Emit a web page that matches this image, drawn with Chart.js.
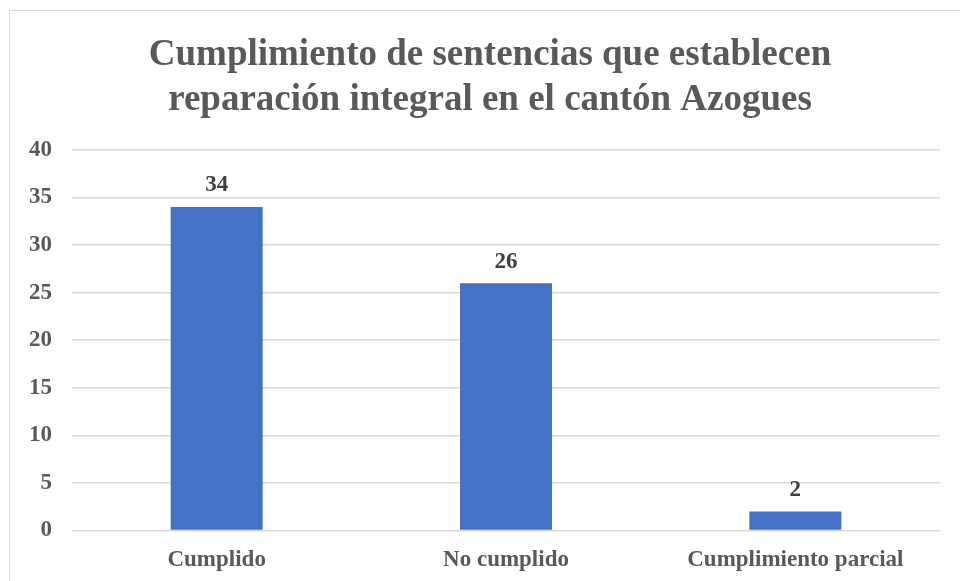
<!DOCTYPE html>
<html>
<head>
<meta charset="utf-8">
<script src="https://cdn.jsdelivr.net/npm/chart.js@4"></script>
<style>
  html, body { margin: 0; padding: 0; background: #fff; overflow: hidden; }
  #marco { position: absolute; left: 9px; top: 10px; width: 1000px; height: 700px; border: 1px solid #d9d9d9; }
  #wrap { position: absolute; left: 0; top: 0; width: 960px; height: 581px; }
</style>
</head>
<body>
<div id="marco"></div>
<div id="wrap"><canvas id="canva"></canvas></div>
<script>
const categorias = ["Cumplido", "No cumplido", "Cumplimiento parcial"];
const valores = [34, 26, 2];
const titulo = ["Cumplimiento de sentencias que establecen", "reparación integral en el cantón Azogues"];

const fuente = "'Liberation Serif', 'Times New Roman', serif";

// titulo centrado sobre el marco, no sobre el lienzo
const tituloPlugin = {
    id: "tituloPlugin",
    afterDraw(chart) {
        const c = chart.ctx;
        c.save();
        c.font = "bold 37px " + fuente;
        c.fillStyle = "#595959";
        c.textAlign = "center";
        c.textBaseline = "middle";
        c.fillText(titulo[0], 490, 55);
        c.fillText(titulo[1], 490, 100);
        c.restore();
    }
};

// etiquetas encima de cada barra
const etiquetas = {
    id: "etiquetas",
    afterDatasetsDraw(chart) {
        const c = chart.ctx;
        const meta = chart.getDatasetMeta(0);
        c.save();
        c.font = "bold 23px " + fuente;
        c.fillStyle = "#404040";
        c.textAlign = "center";
        c.textBaseline = "bottom";
        meta.data.forEach((bar, i) => {
            c.fillText(valores[i], bar.x, bar.y - 10);
        });
        c.restore();
    }
};

const ctx = document.getElementById("canva").getContext("2d");
const chart = new Chart(ctx, {
    type: "bar",
    data: {
        labels: categorias,
        datasets: [{
            data: valores,
            backgroundColor: "#4472c4",
            borderWidth: 0,
            barPercentage: 0.318,
            categoryPercentage: 1
        }]
    },
    options: {
        responsive: true,
        maintainAspectRatio: false,
        animation: false,
        layout: { padding: { left: 9, right: 20, top: 150, bottom: -9 } },
        plugins: {
            legend: { display: false },
            tooltip: { enabled: false },
            title: { display: false }
        },
        scales: {
            x: {
                grid: { display: false, drawTicks: false },
                border: { display: false },
                ticks: {
                    color: "#595959",
                    font: { family: fuente, size: 23, weight: "bold" },
                    padding: 16
                }
            },
            y: {
                min: 0,
                max: 40,
                ticks: {
                    stepSize: 5,
                    color: "#595959",
                    font: { family: fuente, size: 23, weight: "bold" },
                    padding: 20
                },
                grid: { color: "#d9d9d9", lineWidth: 1.5, drawTicks: false },
                border: { display: false }
            }
        }
    },
    plugins: [etiquetas, tituloPlugin]
});
</script>
</body>
</html>
